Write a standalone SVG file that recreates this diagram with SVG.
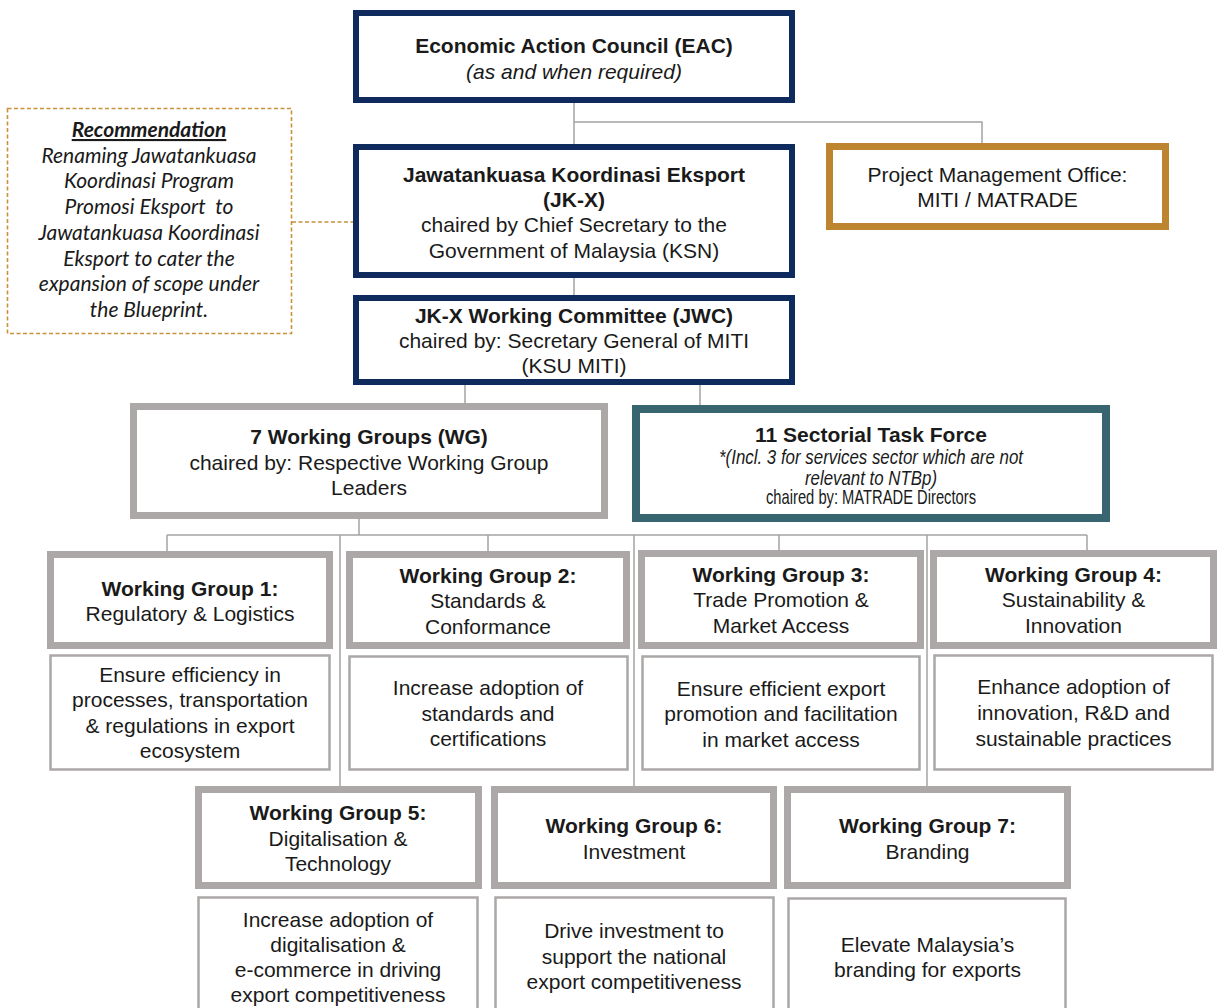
<svg xmlns="http://www.w3.org/2000/svg" width="1219" height="1008" viewBox="0 0 1219 1008">
<style>
  text { font-family: "Liberation Sans", Arial, sans-serif; font-size: 21px; fill: #1a1a1a; text-anchor: middle; }
  .b { font-weight: bold; }
  .i { font-style: italic; }
  .rec { font-family: Lato, "Open Sans", sans-serif; font-style: italic; font-size: 21px; }
  .navy { fill: #ffffff; stroke: #0F2A5D; stroke-width: 6; }
  .gold { fill: #ffffff; stroke: #BE8531; stroke-width: 7; }
  .teal { fill: #ffffff; stroke: #376670; stroke-width: 8; }
  .grey { fill: #ffffff; stroke: #ABA8A7; stroke-width: 7; }
  .desc { fill: #ffffff; stroke: #ABA8A7; stroke-width: 2.5; }
  .dash { fill: #ffffff; stroke: #C9913B; stroke-width: 1.6; stroke-dasharray: 4 2.5; }
  .conn { fill: none; stroke: #A3A3A3; stroke-width: 1.5; }
  .dconn { fill: none; stroke: #C9913B; stroke-width: 1.6; stroke-dasharray: 4 2.5; }
</style>
<rect width="1219" height="1008" fill="#ffffff"/>

<g id="connectors">
  <path class="conn" d="M574 103 V144"/>
  <path class="conn" d="M574 122 H982 V143"/>
  <path class="conn" d="M574 278 V295"/>
  <path class="conn" d="M465 385 V403"/>
  <path class="conn" d="M700 385 V405"/>
  <path class="conn" d="M359 519 V535"/>
  <path class="conn" d="M167 535 H1087"/>
  <path class="conn" d="M167 535 V551"/>
  <path class="conn" d="M488 535 V551"/>
  <path class="conn" d="M779 535 V550"/>
  <path class="conn" d="M1087 535 V550"/>
  <path class="conn" d="M340 535 V786"/>
  <path class="conn" d="M634 535 V786"/>
  <path class="conn" d="M927 535 V786"/>
  <path class="dconn" d="M292 222 H353"/>
</g>

<g id="eac">
  <rect class="navy" x="356" y="13" width="436" height="87"/>
  <text class="b" x="574" y="52.5">Economic Action Council (EAC)</text>
  <text class="i" x="574" y="78.5">(as and when required)</text>
</g>

<g id="recommendation">
  <rect class="dash" x="7.5" y="108.5" width="284" height="225"/>
  <text class="rec" x="149" y="137" font-weight="bold" text-decoration="underline">Recommendation</text>
  <text class="rec" x="149" y="163">Renaming Jawatankuasa</text>
  <text class="rec" x="149" y="188">Koordinasi Program</text>
  <text class="rec" x="149" y="214" xml:space="preserve">Promosi Eksport  to</text>
  <text class="rec" x="149" y="240">Jawatankuasa Koordinasi</text>
  <text class="rec" x="149" y="266">Eksport to cater the</text>
  <text class="rec" x="149" y="291">expansion of scope under</text>
  <text class="rec" x="149" y="317">the Blueprint.</text>
</g>

<g id="jkx">
  <rect class="navy" x="356" y="147" width="436" height="128"/>
  <text class="b" x="574" y="181.5">Jawatankuasa Koordinasi Eksport</text>
  <text class="b" x="574" y="206.5">(JK-X)</text>
  <text x="574" y="232">chaired by Chief Secretary to the</text>
  <text x="574" y="258">Government of Malaysia (KSN)</text>
</g>

<g id="pmo">
  <rect class="gold" x="829.5" y="146.5" width="336" height="80"/>
  <text x="997.5" y="182">Project Management Office:</text>
  <text x="997.5" y="207">MITI / MATRADE</text>
</g>

<g id="jwc">
  <rect class="navy" x="356" y="298" width="436" height="84"/>
  <text class="b" x="574" y="323">JK-X Working Committee (JWC)</text>
  <text x="574" y="348">chaired by: Secretary General of MITI</text>
  <text x="574" y="373">(KSU MITI)</text>
</g>

<g id="wg">
  <rect class="grey" x="133.5" y="406.5" width="471" height="109"/>
  <text class="b" x="369" y="444">7 Working Groups (WG)</text>
  <text x="369" y="470">chaired by: Respective Working Group</text>
  <text x="369" y="495">Leaders</text>
</g>

<g id="stf">
  <rect class="teal" x="636" y="409" width="470" height="109"/>
  <text class="b" x="871" y="441.5">11 Sectorial Task Force</text>
  <text class="i" x="871" y="464" font-size="14.2" textLength="304" lengthAdjust="spacingAndGlyphs">*(Incl. 3 for services sector which are not</text>
  <text class="i" x="871" y="484.5" font-size="14.2" textLength="132" lengthAdjust="spacingAndGlyphs">relevant to NTBp)</text>
  <text x="871" y="503.5" font-size="11.2" textLength="210" lengthAdjust="spacingAndGlyphs">chaired by: MATRADE Directors</text>
</g>

<g id="wg1">
  <rect class="grey" x="50.5" y="554.5" width="279" height="91"/>
  <text class="b" x="190" y="596">Working Group 1:</text>
  <text x="190" y="620.5">Regulatory &amp; Logistics</text>
</g>
<g id="wg1-desc">
  <rect class="desc" x="50.5" y="655.5" width="279" height="114"/>
  <text x="190" y="682">Ensure efficiency in</text>
  <text x="190" y="707">processes, transportation</text>
  <text x="190" y="733">&amp; regulations in export</text>
  <text x="190" y="758">ecosystem</text>
</g>

<g id="wg2">
  <rect class="grey" x="349.5" y="554.5" width="277" height="91"/>
  <text class="b" x="488" y="583">Working Group 2:</text>
  <text x="488" y="608">Standards &amp;</text>
  <text x="488" y="634">Conformance</text>
</g>
<g id="wg2-desc">
  <rect class="desc" x="349.5" y="656.5" width="278" height="113"/>
  <text x="488" y="695">Increase adoption of</text>
  <text x="488" y="721">standards and</text>
  <text x="488" y="746">certifications</text>
</g>

<g id="wg3">
  <rect class="grey" x="641.5" y="553.5" width="279" height="92"/>
  <text class="b" x="781" y="582">Working Group 3:</text>
  <text x="781" y="607">Trade Promotion &amp;</text>
  <text x="781" y="633">Market Access</text>
</g>
<g id="wg3-desc">
  <rect class="desc" x="642.5" y="656.5" width="277" height="113"/>
  <text x="781" y="696">Ensure efficient export</text>
  <text x="781" y="721">promotion and facilitation</text>
  <text x="781" y="747">in market access</text>
</g>

<g id="wg4">
  <rect class="grey" x="933.5" y="553.5" width="280" height="92"/>
  <text class="b" x="1073.5" y="582">Working Group 4:</text>
  <text x="1073.5" y="607">Sustainability &amp;</text>
  <text x="1073.5" y="633">Innovation</text>
</g>
<g id="wg4-desc">
  <rect class="desc" x="934.5" y="655.5" width="278" height="114"/>
  <text x="1073.5" y="694">Enhance adoption of</text>
  <text x="1073.5" y="720">innovation, R&amp;D and</text>
  <text x="1073.5" y="746">sustainable practices</text>
</g>

<g id="wg5">
  <rect class="grey" x="198.5" y="789.5" width="280" height="96"/>
  <text class="b" x="338" y="820">Working Group 5:</text>
  <text x="338" y="846">Digitalisation &amp;</text>
  <text x="338" y="871">Technology</text>
</g>
<g id="wg5-desc">
  <rect class="desc" x="198.5" y="897.5" width="279" height="130"/>
  <text x="338" y="927">Increase adoption of</text>
  <text x="338" y="952">digitalisation &amp;</text>
  <text x="338" y="977">e-commerce in driving</text>
  <text x="338" y="1002">export competitiveness</text>
</g>

<g id="wg6">
  <rect class="grey" x="494.5" y="789.5" width="279" height="96"/>
  <text class="b" x="634" y="833">Working Group 6:</text>
  <text x="634" y="859">Investment</text>
</g>
<g id="wg6-desc">
  <rect class="desc" x="495.5" y="897.5" width="278" height="130"/>
  <text x="634" y="938">Drive investment to</text>
  <text x="634" y="964">support the national</text>
  <text x="634" y="989">export competitiveness</text>
</g>

<g id="wg7">
  <rect class="grey" x="787.5" y="789.5" width="280" height="96"/>
  <text class="b" x="927.5" y="833">Working Group 7:</text>
  <text x="927.5" y="859">Branding</text>
</g>
<g id="wg7-desc">
  <rect class="desc" x="788.5" y="898.5" width="277" height="130"/>
  <text x="927.5" y="952">Elevate Malaysia’s</text>
  <text x="927.5" y="977">branding for exports</text>
</g>
</svg>
